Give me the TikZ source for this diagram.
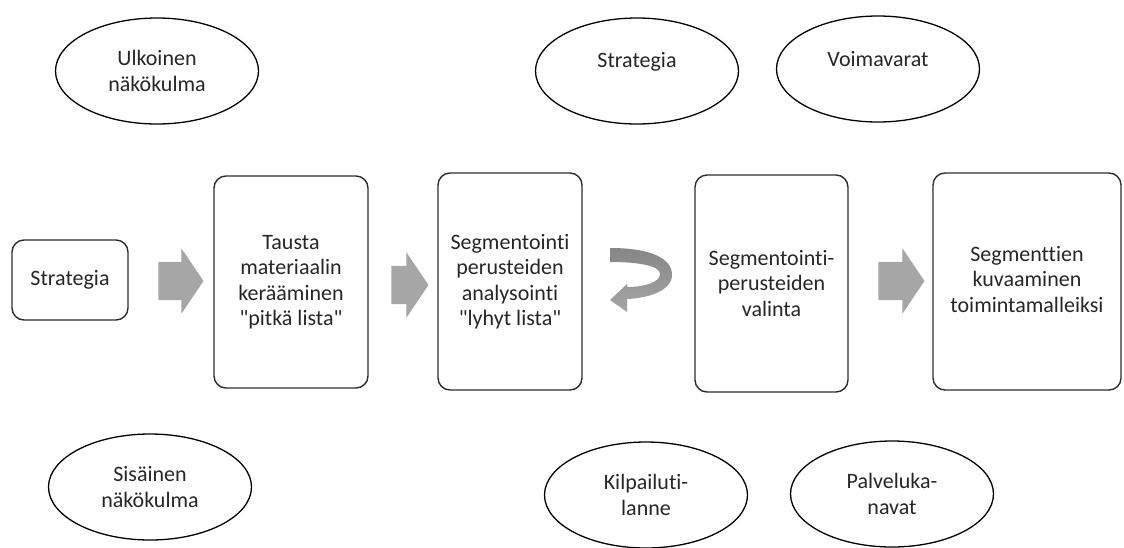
\documentclass[tikz,border=0pt]{standalone}
\usepackage{fontspec}
\setmainfont{Carlito}[Ligatures={NoCommon}]
\usetikzlibrary{shapes.geometric,shapes.arrows}
\definecolor{arrowgray}{RGB}{166,166,166}
\definecolor{curvegray}{RGB}{134,134,134}
\definecolor{linegray}{RGB}{45,45,45}

\begin{document}
\begin{tikzpicture}[x=1pt,y=-1pt,
  every node/.style={font=\fontsize{22}{25.5}\selectfont, text=black!85},
  stepbox/.style={draw=linegray, line width=1.4pt, rounded corners=12pt, align=center, inner sep=0pt},
  view/.style={draw=black, line width=1.3pt, ellipse, minimum width=203pt, minimum height=106pt, align=center, inner sep=0pt},
  blockarrow/.style={single arrow, fill=arrowgray, draw=none, inner xsep=0pt, inner ysep=19pt, single arrow head extend=13.5pt, single arrow tip angle=112}]
  \useasboundingbox (0,0) rectangle (1124,547);

  % process steps
  \node[stepbox, minimum width=116pt, minimum height=80pt] (strat) at (70,280) {Strategia};
  \node[stepbox, minimum width=154pt, minimum height=212pt] (tausta) at (291,282) {Tausta\\materiaalin\\kerääminen\\\textquotedbl pitkä lista\textquotedbl};
  \node[stepbox, minimum width=144pt, minimum height=217pt] (analyysi) at (510,281.5) {Segmentointi\\perusteiden\\analysointi\\\textquotedbl lyhyt lista\textquotedbl};
  \node[stepbox, minimum width=153pt, minimum height=217pt] (valinta) at (771.5,283.5) {Segmentointi-\\perusteiden\\valinta};
  \node[stepbox, minimum width=188pt, minimum height=217pt] (kuvaus) at (1027,281.5) {\raisebox{12pt}{\begin{tabular}{@{}c@{}}Segmenttien\\kuvaaminen\\toimintamalleiksi\end{tabular}}};

  % block arrows
  \node[blockarrow, minimum height=45pt] (nuoli1) at (174.5,281) {};
  \node[blockarrow, minimum height=37pt] (nuoli2) at (403.5,285) {};
  \node[blockarrow, minimum height=46pt] (nuoli3) at (895,281) {};

  % curved arrow back
  \begin{scope}[shift={(610,248)}]
   \shade[top color=curvegray, bottom color=arrowgray]
     (0,0) .. controls (40,0) and (62,10) .. (62,27)
     .. controls (62,42) and (40,50) .. (17,51)
     -- (17,64) -- (0,52) -- (17,36) -- (17,39)
     .. controls (35,39) and (50,34) .. (50,26)
     .. controls (50,18) and (30,14) .. (0,14) -- cycle;
  \end{scope}

  % ellipses
  \node[view] (ulko) at (157,71) {Ulkoinen\\näkökulma};
  \node[view] (strategia) at (637,71) {};
  \node (strategiaT) at ([yshift=9pt]strategia.center) {Strategia};
  \node[view] (voima) at (878,69) {};
  \node (voimaT) at ([yshift=10pt]voima.center) {Voimavarat};
  \node[view] (sisa) at (150,487) {Sisäinen\\näkökulma};
  \node[view] (kilp) at (646,495) {Kilpailuti-\\lanne};
  \node[view] (palv) at (892,494) {Palveluka-\\navat};
\end{tikzpicture}
\end{document}
